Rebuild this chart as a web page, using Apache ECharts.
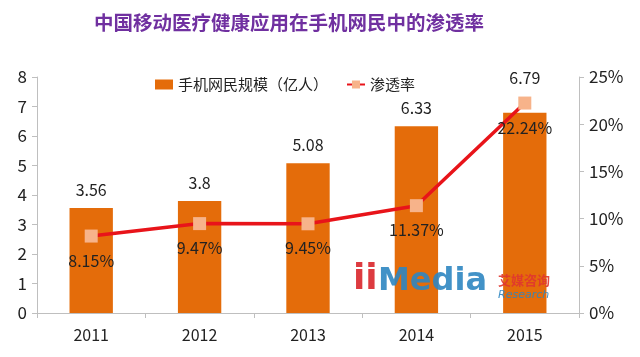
<!DOCTYPE html>
<html><head><meta charset="utf-8">
<script src="https://cdn.jsdelivr.net/npm/echarts@6/dist/echarts.min.js"></script>
<style>html,body{margin:0;padding:0;background:#fff}#c{width:640px;height:357px}</style>
</head><body><div id="c"></div>
<script>
const years = ['2011','2012','2013','2014','2015'];
const users = [3.56, 3.8, 5.08, 6.33, 6.79];
const rate = [8.15, 9.47, 9.45, 11.37, 22.24];
const leftTicks = {min:0, max:8, interval:1};
const rightTicks = {min:0, max:25, interval:5};

const chart = echarts.init(document.getElementById('c'));
const font = '"Noto Sans CJK SC", "Open Sans", sans-serif';
const userData = users.map((v,i)=> i===users.length-1 ? {value:v, label:{distance:27}} : v);
chart.setOption({
  animation:false,
  backgroundColor:'#fff',
  textStyle:{fontFamily:font},
  title:{text:'中国移动医疗健康应用在手机网民中的渗透率', left:284, textAlign:'center', top:8,
    textStyle:{color:'#7030A0', fontSize:19.5, fontWeight:'bold', fontFamily:font}},
  legend:{top:72, left:150, itemGap:18, itemWidth:18, itemHeight:10,
    textStyle:{fontSize:15, color:'#222', fontFamily:font},
    data:[{name:'手机网民规模（亿人）', icon:'rect'}, {name:'渗透率'}]},
  grid:{left:37, right:61, top:77, bottom:44, containLabel:false},
  xAxis:{type:'category', data:years,
    axisLine:{lineStyle:{color:'#BFBFBF', width:1}},
    axisTick:{show:true, alignWithLabel:false, length:5, lineStyle:{color:'#BFBFBF'}},
    axisLabel:{fontSize:16, color:'#222', margin:14, fontFamily:font}},
  yAxis:[
    {type:'value', min:leftTicks.min, max:leftTicks.max, interval:leftTicks.interval,
      splitLine:{show:false},
      axisLine:{show:true, lineStyle:{color:'#BFBFBF'}},
      axisTick:{show:true, length:5, lineStyle:{color:'#BFBFBF'}},
      axisLabel:{fontSize:17, color:'#222', margin:10, fontFamily:font}},
    {type:'value', min:rightTicks.min, max:rightTicks.max, interval:rightTicks.interval,
      splitLine:{show:false},
      axisLine:{show:true, lineStyle:{color:'#BFBFBF'}},
      axisTick:{show:true, length:5, lineStyle:{color:'#BFBFBF'}},
      axisLabel:{fontSize:17, color:'#222', margin:10, formatter:'{value}%', fontFamily:font}}
  ],
  graphic:[
    {type:'text', left:353, top:262, z:1, style:{text:'ii', fill:'#D9262B', font:'bold 36px "DejaVu Sans", sans-serif', opacity:0.9}},
    {type:'text', left:378, top:266, z:1, style:{text:'Media', fill:'#2E86C1', font:'bold 32px "DejaVu Sans", sans-serif', opacity:0.9}},
    {type:'text', left:498, top:274, z:1, style:{text:'艾媒咨询', fill:'#E0362F', font:'bold 13px "Noto Sans CJK SC"', opacity:0.9}},
    {type:'text', left:498, top:290, z:1, style:{text:'Research', fill:'#2E86C1', font:'italic 11px "DejaVu Sans"', opacity:0.9}}
  ],
  series:[
    {name:'手机网民规模（亿人）', type:'bar', data:userData, barWidth:'40%', z:0,
      itemStyle:{color:'#E46C0A'},
      label:{show:true, position:'top', distance:10, fontSize:16, color:'#222', fontFamily:font}},
    {name:'渗透率', type:'line', yAxisIndex:1, data:rate, z:5,
      symbol:'rect', symbolSize:13,
      lineStyle:{color:'#E8141A', width:3.5},
      itemStyle:{color:'#F7B38A', borderWidth:0},
      label:{show:true, position:'bottom', distance:10, fontSize:16, color:'#222', formatter:'{c}%', fontFamily:font}}
  ]
});
</script></body></html>
